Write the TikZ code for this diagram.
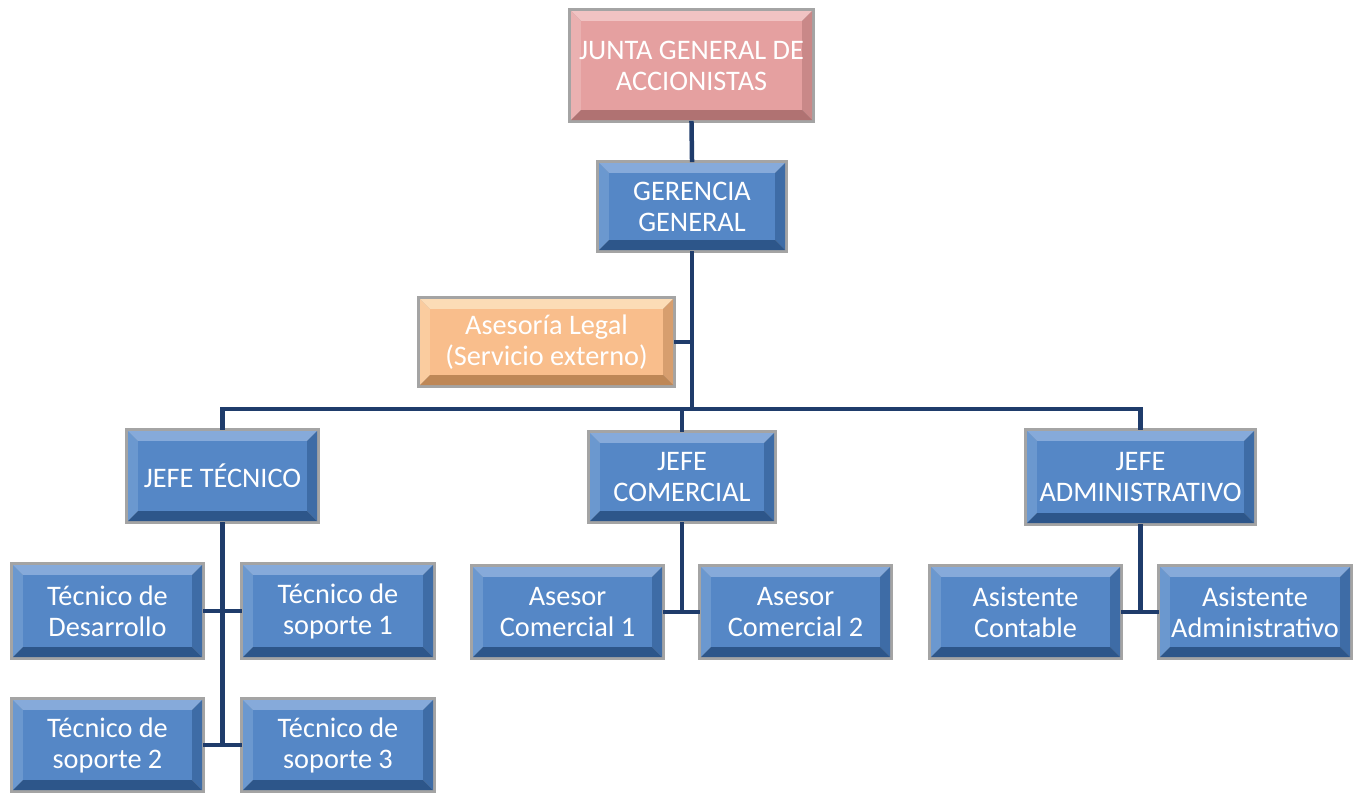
\documentclass[tikz,border=0pt]{standalone}
\usepackage{fontspec}
\setmainfont{Carlito}
\usetikzlibrary{calc}

% bevel palettes: face, top, left, right, bottom
\definecolor{frame}{HTML}{A4A4A4}
\definecolor{blueface}{HTML}{5587C6}
\definecolor{bluetop}{HTML}{86AADA}
\definecolor{blueleft}{HTML}{6B98CF}
\definecolor{blueright}{HTML}{3E6CA6}
\definecolor{bluebot}{HTML}{2D568A}
\definecolor{pinkface}{HTML}{E5A0A0}
\definecolor{pinktop}{HTML}{F1C3C3}
\definecolor{pinkleft}{HTML}{EAB1B1}
\definecolor{pinkright}{HTML}{C98888}
\definecolor{pinkbot}{HTML}{B07272}
\definecolor{orangeface}{HTML}{F9BE8C}
\definecolor{orangetop}{HTML}{FCDCB6}
\definecolor{orangeleft}{HTML}{FACC9F}
\definecolor{orangeright}{HTML}{D79E6E}
\definecolor{orangebot}{HTML}{BE8756}
\definecolor{linkcol}{HTML}{1F3C6B}

\tikzset{
  conn/.style={draw=linkcol, line width=4.5pt, line cap=rect},
  orgtext/.style={text=white, align=center, inner sep=0pt,
    font=\fontsize{28.3}{31}\selectfont}
}

% \orgbox{name}{x1}{y1}{x2}{y2}{palette}{text}
\newcommand\orgbox[7]{%
  \pgfmathsetmacro\Xa{#2+3}\pgfmathsetmacro\Ya{#3+3}%
  \pgfmathsetmacro\Xb{#4-3}\pgfmathsetmacro\Yb{#5-3}%
  \pgfmathsetmacro\Fa{\Xa+10}\pgfmathsetmacro\Ga{\Ya+10}%
  \pgfmathsetmacro\Fb{\Xb-10}\pgfmathsetmacro\Gb{\Yb-10}%
  \fill[frame] (#2,#3) rectangle (#4,#5);
  \fill[#6top] (\Xa,\Ya) -- (\Xb,\Ya) -- (\Fb,\Ga) -- (\Fa,\Ga) -- cycle;
  \fill[#6left] (\Xa,\Ya) -- (\Fa,\Ga) -- (\Fa,\Gb) -- (\Xa,\Yb) -- cycle;
  \fill[#6right] (\Xb,\Ya) -- (\Xb,\Yb) -- (\Fb,\Gb) -- (\Fb,\Ga) -- cycle;
  \fill[#6bot] (\Xa,\Yb) -- (\Xb,\Yb) -- (\Fb,\Gb) -- (\Fa,\Gb) -- cycle;
  \fill[#6face] (\Fa,\Ga) rectangle (\Fb,\Gb);
  \pgfmathsetmacro\Wd{#4-#2}\pgfmathsetmacro\Ht{#5-#3}%
  \node[orgtext, minimum width=\Wd pt, minimum height=\Ht pt]
    (#1) at ({(#2+#4)/2},{(#3+#5)/2}) {#7};
}

\begin{document}
\begin{tikzpicture}[x=1pt,y=-1pt]
\useasboundingbox (0,0) rectangle (1359,793);
\coordinate (bus) at (0,409);

\orgbox{junta}{568}{8}{815}{123}{pink}{JUNTA GENERAL DE\\ACCIONISTAS}
\orgbox{ger}{596}{160}{788}{253}{blue}{GERENCIA\\GENERAL}
\orgbox{ase}{417}{296}{676}{388}{orange}{Asesoría Legal\\(Servicio externo)}
\orgbox{jt}{125}{428}{320}{524}{blue}{JEFE TÉCNICO}
\orgbox{jc}{587}{430}{777}{524}{blue}{JEFE\\COMERCIAL}
\orgbox{ja}{1024}{428}{1257}{526}{blue}{JEFE\\ADMINISTRATIVO}
\orgbox{td}{10}{562}{205}{660}{blue}{Técnico de\\Desarrollo}
\orgbox{ts1}{240}{562}{436}{660}{blue}{Técnico de\\soporte 1}
\orgbox{ts2}{10}{697}{205}{793}{blue}{Técnico de\\soporte 2}
\orgbox{ts3}{240}{697}{436}{793}{blue}{Técnico de\\soporte 3}
\orgbox{ac1}{470}{564}{665}{660}{blue}{Asesor\\Comercial 1}
\orgbox{ac2}{698}{564}{893}{660}{blue}{Asesor\\Comercial 2}
\orgbox{asc}{928}{564}{1123}{660}{blue}{Asistente\\Contable}
\orgbox{asa}{1157}{564}{1353}{660}{blue}{Asistente\\Administrativo}

% reporting lines
\draw[conn] (junta.south) -- (ger.north);
\draw[conn] (ger.south) -- (ger.south |- bus);
\draw[conn] (ase.east) -- (ase.east -| ger.south);
\draw[conn] (jt.north) -- (jt.north |- bus) -- (ja.north |- bus) -- (ja.north);
\draw[conn] (jc.north) -- (jc.north |- bus);
\draw[conn] (jt.south) -- (jt.south |- ts2.east);
\draw[conn] (td.east) -- (ts1.west);
\draw[conn] (ts2.east) -- (ts3.west);
\draw[conn] (jc.south) -- (jc.south |- ac1.east);
\draw[conn] (ac1.east) -- (ac2.west);
\draw[conn] (ja.south) -- (ja.south |- asc.east);
\draw[conn] (asc.east) -- (asa.west);
\end{tikzpicture}
\end{document}
